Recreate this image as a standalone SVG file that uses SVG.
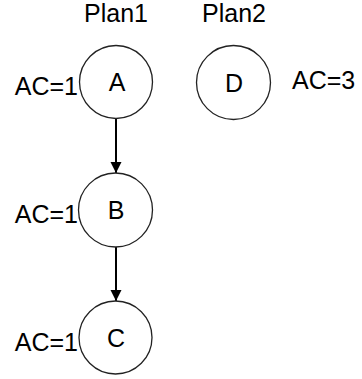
<svg xmlns="http://www.w3.org/2000/svg" width="362" height="379" viewBox="0 0 362 379">
<defs>
<style>
text{font-family:"Liberation Sans",Arial,sans-serif;fill:#000;font-size:25px}
.mid{text-anchor:middle}
.end{text-anchor:end}
circle{fill:#fff;stroke:#222;stroke-width:1.3}
.edge{stroke:#000;stroke-width:2;fill:none}
</style>
<marker id="arr" markerUnits="userSpaceOnUse" markerWidth="12" markerHeight="12" viewBox="0 0 12 12" refX="11" refY="6" orient="auto">
<path d="M0,0.5 L11,6 L0,11.5 Z" fill="#000"/>
</marker>
</defs>
<text class="mid" x="116" y="22">Plan1</text>
<text class="mid" x="234" y="22">Plan2</text>
<g id="connectors">
<line class="edge" x1="116" y1="119" x2="116" y2="173" marker-end="url(#arr)"/>
<line class="edge" x1="116" y1="247" x2="116" y2="301" marker-end="url(#arr)"/>
</g>
<g id="nodeA">
<circle cx="116" cy="82" r="36.5"/>
<text class="mid" x="117" y="91">A</text>
<text class="end" x="78" y="95">AC=1</text>
</g>
<g id="nodeB">
<circle cx="115.5" cy="210" r="37"/>
<text class="mid" x="116" y="219">B</text>
<text class="end" x="78" y="223">AC=1</text>
</g>
<g id="nodeC">
<circle cx="115.5" cy="337.5" r="36.5"/>
<text class="mid" x="116" y="346.5">C</text>
<text class="end" x="78" y="351">AC=1</text>
</g>
<g id="nodeD">
<circle cx="233.5" cy="82.5" r="37"/>
<text class="mid" x="234" y="91.5">D</text>
<text x="292" y="89">AC=3</text>
</g>
</svg>
